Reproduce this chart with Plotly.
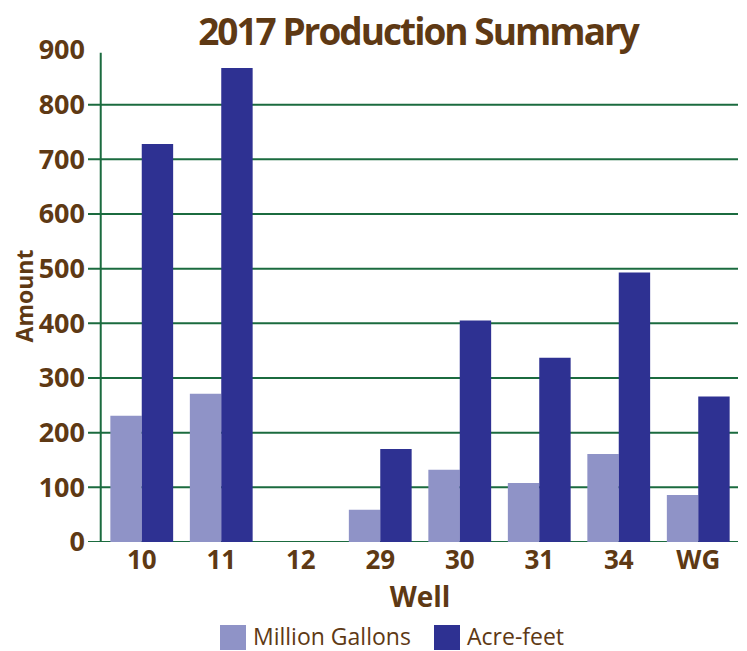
import plotly.graph_objects as go

wells = ["10", "11", "12", "29", "30", "31", "34", "WG"]
million_gallons = [231, 271, 0, 59, 132, 108, 161, 86]
acre_feet = [728, 867, 0, 170, 405, 337, 493, 266]
y_ticks = [0, 100, 200, 300, 400, 500, 600, 700, 800, 900]
grid_values = [0, 100, 200, 300, 400, 500, 600, 700, 800]

BROWN = "#5e3914"
GREEN = "#1b6b3f"
LIGHT = "#8f93c7"
DARK = "#2e3192"
FONT = "Open Sans, DejaVu Sans, sans-serif"

OFF = 8  # default page body margin
W, H = 747 - OFF, 651 - OFF
ml, mr, mt, mb = 102 - OFF, 9, 50 - OFF, 109
pw, ph = W - ml - mr, H - mt - mb


def px_x(x):
    return (x - OFF - ml) / pw


def px_y(y):
    return (H - mb - (y - OFF)) / ph


fig = go.Figure()
fig.add_trace(go.Bar(x=wells, y=million_gallons, name="Million Gallons",
                     marker=dict(color=LIGHT, line=dict(width=0)), showlegend=False))
fig.add_trace(go.Bar(x=wells, y=acre_feet, name="Acre-feet",
                     marker=dict(color=DARK, line=dict(width=0)), showlegend=False))

shapes = []
for g in grid_values:
    shapes.append(dict(type="line", xref="paper", yref="y", x0=-0.022, x1=1.0,
                       y0=g, y1=g, line=dict(color=GREEN, width=2), layer="below"))
shapes.append(dict(type="line", xref="paper", yref="y", x0=-0.002, x1=-0.002, y0=0, y1=895,
                   line=dict(color=GREEN, width=2), layer="below"))

legend_items = [("Million Gallons", LIGHT, 220, 251), ("Acre-feet", DARK, 434, 465)]
annotations = []
for name, col, sx, tx in legend_items:
    shapes.append(dict(type="rect", xref="paper", yref="paper",
                       x0=px_x(sx), x1=px_x(sx + 26), y0=px_y(650), y1=px_y(625),
                       fillcolor=col, line=dict(width=0)))
    annotations.append(dict(text=name, xref="paper", yref="paper", x=px_x(tx), y=px_y(635.5),
                            xanchor="left", yanchor="middle", showarrow=False,
                            font=dict(family=FONT, size=23, color=BROWN)))

fig.update_layout(
    width=W, height=H,
    margin=dict(l=ml, r=mr, t=mt, b=mb, autoexpand=False),
    paper_bgcolor="white", plot_bgcolor="white",
    barmode="group", bargap=0.21, bargroupgap=0,
    title=dict(text="<span style='letter-spacing:-2px'><b>2017 Production Summary</b></span>",
               x=(418 - OFF) / W, xanchor="center",
               y=1 - (32 - OFF) / H, yanchor="middle",
               font=dict(family=FONT, size=37, color=BROWN)),
    xaxis=dict(showgrid=False, showline=False, ticks="", zeroline=False, automargin=False,
               tickfont=dict(family=FONT, size=26, color=BROWN, weight="bold"),
               title=dict(text="<b>Well</b>", standoff=4,
                          font=dict(family=FONT, size=28, color=BROWN))),
    yaxis=dict(range=[0, 900], tickvals=y_ticks, showgrid=False, zeroline=False,
               showline=False, ticks="", ticklabelstandoff=16, automargin=False,
               tickfont=dict(family=FONT, size=27, color=BROWN, weight="bold"),
               title=dict(text="<b>Amount</b>", standoff=14,
                          font=dict(family=FONT, size=23, color=BROWN))),
    shapes=shapes,
    annotations=annotations,
)

fig.write_html("out.html")
